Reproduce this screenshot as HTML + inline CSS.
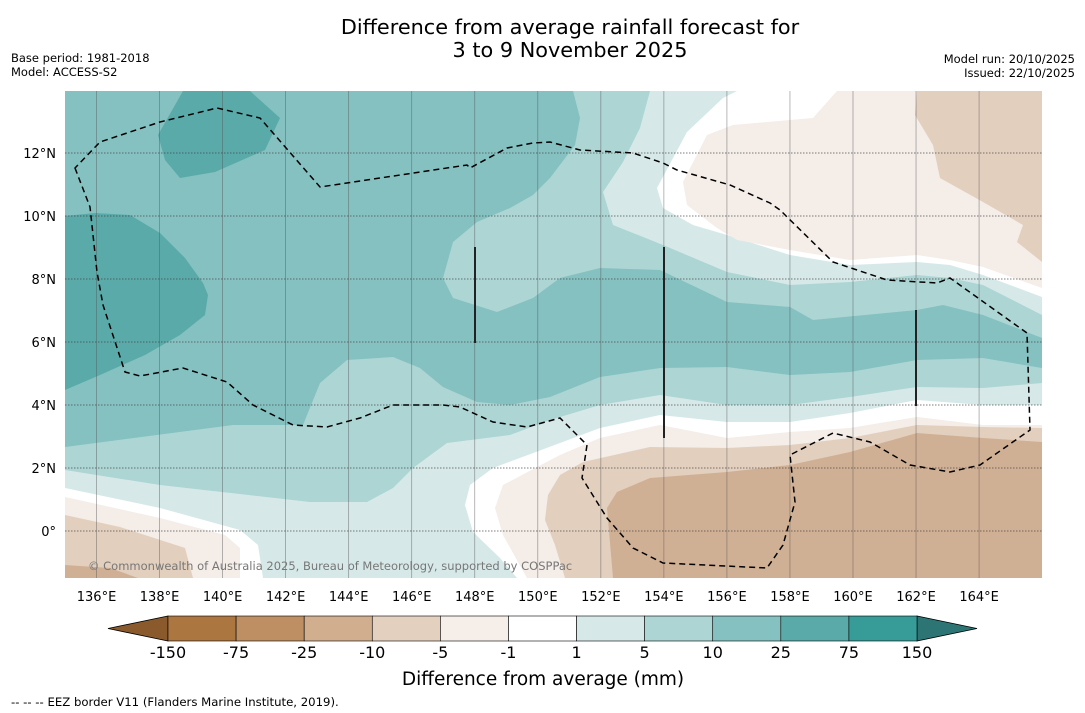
<!DOCTYPE html>
<html><head><meta charset="utf-8"><style>
body{margin:0;background:#fff;font-family:"Liberation Sans","DejaVu Sans",sans-serif;}
svg{display:block}
</style></head><body>
<svg width="1085" height="713" viewBox="0 0 1085 713" xmlns="http://www.w3.org/2000/svg" font-family="DejaVu Sans, Liberation Sans, sans-serif">
<g font-size="20.8" text-anchor="middle" fill="#000">
<text x="570" y="34">Difference from average rainfall forecast for</text>
<text x="570" y="57">3 to 9 November 2025</text>
</g>
<g font-size="11.5" fill="#000">
<text x="11" y="62">Base period: 1981-2018</text>
<text x="11" y="76">Model: ACCESS-S2</text>
<text x="1075" y="63" text-anchor="end">Model run: 20/10/2025</text>
<text x="1075" y="77" text-anchor="end">Issued: 22/10/2025</text>
</g>
<defs><clipPath id="mc"><rect x="65" y="91" width="977" height="487"/></clipPath></defs>
<g id="map" clip-path="url(#mc)" stroke="none">
<rect x="65" y="91" width="977" height="487" fill="#84c1c0"/>
<path fill="#5aaaaa" d="M183,91 L250,91 L280,118 L265,150 L215,172 L180,178 L165,160 L158,135 Z"/>
<path fill="#5aaaaa" d="M65,216 L95,213 L130,215 L160,233 L185,258 L203,283 L208,295 L205,315 L180,335 L145,355 L100,375 L65,390 Z"/>
<path fill="#acd5d4" d="M573,91 L580,118 L575,145 L550,178 L533,195 L510,208 L477,222 L453,242 L443,278 L453,298 L497,312 L533,298 L560,278 L600,268 L660,270 L727,302 L790,307 L813,320 L917,310 L943,305 L983,315 L1042,338 L1042,91 Z"/>
<path fill="#acd5d4" d="M65,447 L233,425 L303,425 L320,383 L347,360 L393,357 L420,368 L443,387 L477,402 L510,405 L550,397 L600,377 L660,368 L727,367 L790,375 L850,372 L917,360 L983,358 L1042,368 L1042,578 L65,578 Z"/>
<path fill="#d6e9e8" d="M650,91 L640,128 L623,162 L603,192 L613,225 L663,245 L727,272 L790,285 L850,282 L917,275 L950,278 L983,285 L1042,315 L1042,91 Z"/>
<path fill="#d6e9e8" d="M65,470 L160,485 L310,502 L367,502 L393,488 L413,468 L447,443 L510,435 L550,420 L600,405 L660,395 L727,405 L790,405 L850,397 L917,387 L983,388 L1042,383 L1042,578 L65,578 Z"/>
<path fill="#ffffff" d="M737,91 L723,98 L687,132 L657,188 L663,208 L693,225 L727,235 L790,255 L850,265 L917,262 L950,265 L983,275 L1042,297 L1042,91 Z"/>
<path fill="#ffffff" d="M560,443 L493,468 L470,485 L465,505 L473,532 L500,558 L517,578 L1042,578 L1042,405 L983,405 L917,400 L850,413 L790,422 L727,422 L660,415 L600,428 Z"/>
<path fill="#ffffff" d="M65,488 L160,508 L240,530 L258,545 L263,578 L65,578 Z"/>
<path fill="#f4ede8" d="M837,91 L813,118 L733,125 L707,135 L683,182 L687,205 L717,228 L737,240 L790,250 L850,260 L917,255 L950,260 L983,267 L1042,288 L1042,91 Z"/>
<path fill="#f4ede8" d="M560,455 L503,485 L495,508 L503,535 L527,578 L1042,578 L1042,425 L983,425 L917,417 L850,428 L790,432 L727,438 L660,425 L600,438 Z"/>
<path fill="#f4ede8" d="M65,497 L160,518 L225,535 L240,548 L240,578 L65,578 Z"/>
<path fill="#e3cfbe" d="M917,91 L915,115 L933,145 L940,178 L983,202 L1023,225 L1017,242 L1042,262 L1042,91 Z"/>
<path fill="#e3cfbe" d="M583,462 L560,475 L548,495 L545,520 L555,545 L565,578 L1042,578 L1042,428 L983,427 L917,425 L850,438 L790,445 L727,448 L650,447 Z"/>
<path fill="#e3cfbe" d="M65,515 L120,527 L185,548 L193,578 L65,578 Z"/>
<path fill="#d0b094" d="M613,578 L607,508 L617,492 L650,478 L727,472 L790,465 L850,452 L917,433 L983,438 L1042,442 L1042,578 Z"/>
<path fill="#d0b094" d="M65,565 L110,568 L138,578 L65,578 Z"/>
<g id="grid"></g>
<path fill="none" stroke="#000" stroke-width="1.5" stroke-dasharray="6,4" d="M75,168 L90,207 L97,272 L103,305 L125,372 L140,376 L183,368 L227,382 L253,405 L293,425 L327,427 L360,418 L393,405 L443,405 L460,407 L493,422 L527,427 L560,418 L587,445 L582,478 L607,518 L633,548 L663,563 L767,568 L783,545 L795,502 L790,455 L833,433 L870,442 L910,465 L950,472 L980,465 L1030,430 L1027,333 L950,278 L937,283 L887,280 L833,262 L780,210 L770,203 L730,185 L677,170 L663,163 L633,153 L580,150 L550,142 L533,143 L507,148 L470,168 L467,165 L320,187 L260,118 L217,108 L160,122 L100,142 Z"/>
<g stroke="#222" stroke-width="2">
<line x1="475" y1="247" x2="475" y2="343"/><line x1="664" y1="247" x2="664" y2="438"/><line x1="916" y1="310" x2="916" y2="406"/>
</g>
<text x="88" y="570" font-size="11.5" fill="#777">© Commonwealth of Australia 2025, Bureau of Meteorology, supported by COSPPac</text>
</g>
<g id="ticks" font-size="13" fill="#000"></g>
<g id="cbar"></g>
<text x="543" y="685" font-size="18.5" text-anchor="middle">Difference from average (mm)</text>
<text x="11" y="706" font-size="11.7">--  --  -- EEZ border V11 (Flanders Marine Institute, 2019).</text>
</svg>
<script>
const lonTicks=[136,138,140,142,144,146,148,150,152,154,156,158,160,162,164];
const latTicks=[0,2,4,6,8,10,12];
const cbLevels=["-150","-75","-25","-10","-5","-1","1","5","10","25","75","150"];
const cbColors=["#ab7640","#bd8f63","#d0ae8e","#e4d0bf","#f5eee9","#ffffff","#d6e9e8","#acd5d4","#84c1c0","#5aaaaa","#379b98"];
const cbEnds=["#8a5a2c","#2c7574"];
const NS="http://www.w3.org/2000/svg";
const x=lon=>65+(lon-135)*31.52;
const y=lat=>531-lat*31.5;
const grid=document.getElementById('grid'),ticks=document.getElementById('ticks'),cb=document.getElementById('cbar');
function mk(t,a,p){const e=document.createElementNS(NS,t);for(const k in a)e.setAttribute(k,a[k]);p.appendChild(e);return e;}
lonTicks.forEach(l=>{
 const g=mk('line',{x1:x(l),x2:x(l),y1:91,y2:578,stroke:'#555','stroke-width':0.7,'stroke-opacity':0.6},grid);
 
 
 const t=mk('text',{x:x(l),y:601,'text-anchor':'middle'},ticks);t.textContent=l+'°E';
 
 
});
latTicks.forEach(l=>{
 const g=mk('line',{x1:65,x2:1042,y1:y(l),y2:y(l),stroke:'#444','stroke-width':1,'stroke-dasharray':'1.5,1.5','stroke-opacity':0.7},grid);
 
 
 const t=mk('text',{x:56,y:y(l)+5,'text-anchor':'end'},ticks);t.textContent=l===0?'0°':l+'°N';
 
 
});
const cx0=168,cx1=917,cy=616,ch=25,w=(cx1-cx0)/cbColors.length;
const tl=mk('polygon',{points:`108,${cy+ch/2} ${cx0},${cy} ${cx0},${cy+ch}`,fill:cbEnds[0],stroke:'#000','stroke-width':0.8},cb);


const tr=mk('polygon',{points:`977,${cy+ch/2} ${cx1},${cy} ${cx1},${cy+ch}`,fill:cbEnds[1],stroke:'#000','stroke-width':0.8},cb);


cbColors.forEach((c,i)=>{
 const r=mk('rect',{x:cx0+i*w,y:cy,width:w,height:ch,fill:c,stroke:'#000','stroke-width':0.6},cb);
 
 
});
cbLevels.forEach((s,i)=>{
 const t=mk('text',{x:cx0+i*w,y:658,'text-anchor':'middle','font-size':16},cb);t.textContent=s;
 
 
});
</script>
</body></html>
